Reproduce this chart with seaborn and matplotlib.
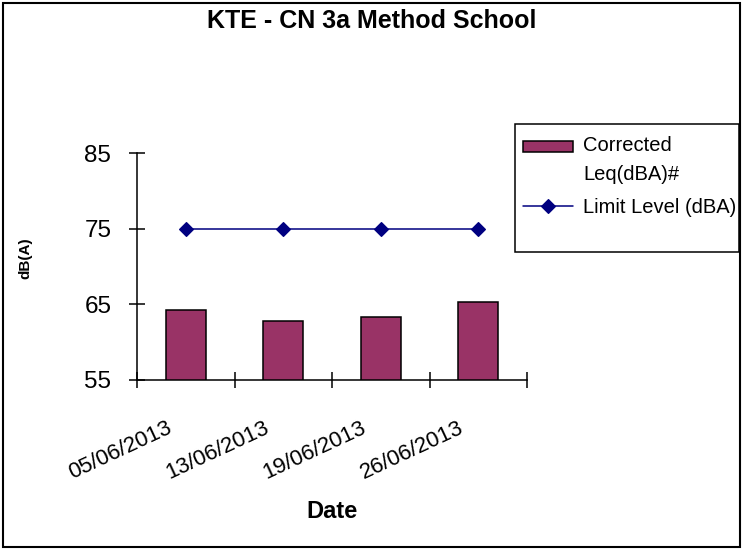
import numpy as np
import pandas as pd
import matplotlib
matplotlib.use('Agg')
import matplotlib.pyplot as plt
import matplotlib.transforms as mtransforms
from matplotlib.patches import Rectangle
from matplotlib.legend_handler import HandlerPatch
import seaborn as sns

# chart data
dates = ['05/06/2013', '13/06/2013', '19/06/2013', '26/06/2013']
leq_corrected = [64.2, 62.8, 63.3, 65.3]
limit_level = [75, 75, 75, 75]
y_ticks = [55, 65, 75, 85]

sns.set_style('white')
plt.rcParams['font.family'] = ['Liberation Sans', 'DejaVu Sans']
plt.rcParams['text.color'] = 'black'
plt.rcParams['axes.labelcolor'] = 'black'
plt.rcParams['xtick.color'] = 'black'
plt.rcParams['ytick.color'] = 'black'

df = pd.DataFrame({'Date': dates, 'Leq': leq_corrected, 'Limit': limit_level})

W, H = 743, 550
fig = plt.figure(figsize=(W / 100, H / 100), dpi=100)
ax = fig.add_axes([137 / W, 1 - 380 / H, 390 / W, 227 / H])

sns.barplot(data=df, x='Date', y='Leq', color='#993366', saturation=1,
            width=0.41, edgecolor='black', linewidth=1.1, errorbar=None, ax=ax)
sns.pointplot(data=df, x='Date', y='Limit', color='#000080', markers='D',
              linestyles='-', errorbar=None, markersize=7, linewidth=1.1, ax=ax)

ax.set_ylim(55, 85)
ax.set_xlim(-0.5, len(dates) - 0.5)
ax.set_yticks(y_ticks)
ax.set_yticklabels([str(v) for v in y_ticks], fontsize=17.5)

# category boundaries get the tick marks, labels sit at the categories
ax.set_xticks(np.arange(len(dates) + 1) - 0.5)
ax.set_xticklabels([])
ax.set_xticks(np.arange(len(dates)), minor=True)
ax.set_xticklabels(dates, minor=True, rotation=25, ha='right', va='top', fontsize=16)
ax.tick_params(axis='x', which='minor', bottom=True, length=0, pad=27)
ax.tick_params(axis='both', which='major', bottom=True, left=True,
               direction='inout', length=11, width=1.1, color='black')
ax.tick_params(axis='y', pad=13)
offset = mtransforms.ScaledTranslation(-11 / 100, 0, fig.dpi_scale_trans)
for lbl in ax.get_xticklabels(minor=True):
    lbl.set_transform(lbl.get_transform() + offset)

for side in ['top', 'right']:
    ax.spines[side].set_visible(False)
for side in ['left', 'bottom']:
    ax.spines[side].set_color('black')
    ax.spines[side].set_linewidth(1.1)

ax.set_xlabel('Date', fontsize=17, fontweight='bold', va='center')
ax.xaxis.set_label_coords(0.5, (380 - 511) / 227)
ax.set_ylabel('dB(A)', fontsize=11, fontweight='bold', va='center')
ax.yaxis.set_label_coords((25 - 137) / 390, (380 - 258) / 227)

fig.text(0.5, 1 - 21 / H, 'KTE - CN 3a Method School', fontsize=18,
         fontweight='bold', ha='center', va='center')


# bar swatch sits next to the first line of its two-line label
def raised_patch(legend, orig_handle, xdescent, ydescent, width, height, fontsize):
    return Rectangle((-xdescent, -ydescent + 10), width, height)


bar_handle = ax.patches[0]
leg = ax.legend([bar_handle, ax.lines[0]],
                ['Corrected\nLeq(dBA)#', 'Limit Level (dBA)'],
                handler_map={bar_handle: HandlerPatch(patch_func=raised_patch)},
                loc='upper left', bbox_to_anchor=(523 / W, 1 - 136 / H),
                bbox_transform=fig.transFigure, frameon=False, fontsize=14.5,
                handlelength=2.5, handleheight=0.5, handletextpad=0.5,
                borderpad=0, borderaxespad=0, labelspacing=0.7)
for t in leg.get_texts():
    t.set_linespacing(1.65)
fig.patches.append(Rectangle((515 / W, 1 - 252 / H), 224 / W, 128 / H,
                             transform=fig.transFigure, fill=False,
                             edgecolor='black', linewidth=1.1))

# outer chart border
fig.patches.append(Rectangle((3 / W, 3 / H), 1 - 6 / W, 1 - 6 / H,
                             transform=fig.transFigure, fill=False,
                             edgecolor='black', linewidth=1.5))

fig.savefig('out.png', dpi=100)
